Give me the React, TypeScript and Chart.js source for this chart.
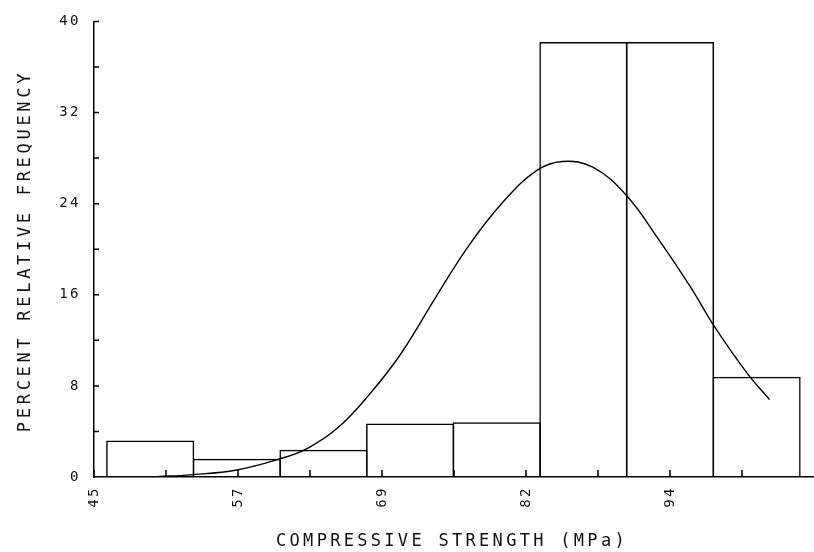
import { useEffect, useRef } from 'react';
import { Chart, registerables } from 'chart.js';

Chart.register(...registerables);

// Histogram bins (class mid-points, MPa) and percent relative frequency
const binCenters = [49.8, 57.2, 64.6, 72.0, 79.4, 86.8, 94.2, 101.6];
const binFrequencies = [3.2, 1.6, 2.4, 4.7, 4.8, 38.2, 38.2, 8.8];

// Fitted curve
const curveX = [50.5, 53.2, 57.2, 60.9, 63.2, 65.8, 68.4, 71.2, 74.2, 77.0, 79.9, 82.8, 85.0, 87.6, 90.5, 93.2, 96.0, 98.0, 100.8, 102.7];
const curveY = [0.04, 0.19, 0.62, 1.6, 2.5, 4.3, 7.1, 10.8, 15.8, 20.3, 24.1, 26.9, 27.7, 27.2, 24.7, 20.9, 16.6, 13.2, 9.1, 6.8];

// Axis ticks
const xMajorTicks = [45, 57.3, 69.6, 81.9, 94.2];
const xTickLabels = ['45', '57', '69', '82', '94'];
const xMinorTicks = [51.15, 63.45, 75.75, 88.05, 100.35];
const yTickMarks = [4, 8, 12, 16, 20, 24, 28, 32, 36, 40];

const xTitle = 'COMPRESSIVE STRENGTH (MPa)';
const yTitle = 'PERCENT RELATIVE FREQUENCY';

const FONT = '"DejaVu Sans Mono", monospace';

export default function App() {
  const ref = useRef<HTMLCanvasElement | null>(null);

  useEffect(() => {
    if (!ref.current) return;

    const decorations = {
      id: 'decorations',
      beforeDraw(chart: any) {
        chart.ctx.letterSpacing = '2.5px';
      },
      afterDraw(chart: any) {
        const ctx = chart.ctx;
        const { left, bottom } = chart.chartArea;
        const xs = chart.scales.x;
        const ys = chart.scales.y;
        ctx.save();
        ctx.strokeStyle = '#000';
        ctx.lineWidth = 1.5;
        ctx.beginPath();
        [...xMajorTicks, ...xMinorTicks].forEach((v) => {
          const px = xs.getPixelForValue(v);
          ctx.moveTo(px, bottom);
          ctx.lineTo(px, bottom - 7);
        });
        yTickMarks.forEach((v) => {
          const py = ys.getPixelForValue(v);
          ctx.moveTo(left, py);
          ctx.lineTo(left + 5, py);
        });
        ctx.stroke();

        ctx.fillStyle = '#111';
        ctx.font = `17px ${FONT}`;
        ctx.letterSpacing = '3.3px';
        ctx.textAlign = 'center';
        ctx.textBaseline = 'middle';
        ctx.fillText(xTitle, 452, 542);
        ctx.letterSpacing = '3.7px';
        ctx.translate(26, 251);
        ctx.rotate(-Math.PI / 2);
        ctx.fillText(yTitle, 0, 0);
        ctx.restore();
      },
    };

    const chart = new Chart(ref.current, {
      type: 'bar',
      data: {
        datasets: [
          {
            type: 'line',
            data: curveX.map((x, i) => ({ x, y: curveY[i] })),
            borderColor: '#000',
            borderWidth: 1.4,
            pointRadius: 0,
            fill: false,
            tension: 0.4,
            order: 0,
          } as any,
          {
            type: 'bar',
            data: binCenters.map((x, i) => ({ x, y: binFrequencies[i] })),
            backgroundColor: 'rgba(255,255,255,0)',
            borderColor: '#000',
            borderWidth: 1.5,
            barPercentage: 1.017,
            categoryPercentage: 1,
            order: 1,
          } as any,
        ],
      },
      options: {
        responsive: false,
        animation: false,
        events: [],
        layout: { padding: { left: 0, top: 17, right: 0, bottom: 0 } },
        plugins: { legend: { display: false }, tooltip: { enabled: false } },
        scales: {
          x: {
            type: 'linear',
            min: 45,
            max: 106.5,
            offset: false,
            grid: { display: false, drawTicks: false },
            border: { display: true, color: '#000', width: 1.5 },
            afterBuildTicks: (scale: any) => {
              scale.ticks = xMajorTicks.map((value) => ({ value }));
            },
            afterFit: (scale: any) => {
              scale.height = 75;
            },
            ticks: {
              autoSkip: false,
              minRotation: 90,
              maxRotation: 90,
              padding: 9,
              color: '#111',
              font: { family: FONT, size: 14 },
              callback: (_v: any, i: number) => xTickLabels[i],
            },
          },
          y: {
            min: 0,
            max: 40,
            grid: { display: false, drawTicks: false },
            border: { display: true, color: '#000', width: 1.5 },
            afterFit: (scale: any) => {
              scale.width = 94;
            },
            ticks: {
              stepSize: 8,
              padding: 13,
              color: '#111',
              font: { family: FONT, size: 14 },
            },
          },
        },
      },
      plugins: [decorations],
    });

    return () => chart.destroy();
  }, []);

  return (
    <div style={{ position: 'absolute', left: 0, top: 0, width: 814, height: 552, background: '#fff' }}>
      <canvas ref={ref} width={814} height={552} />
    </div>
  );
}
